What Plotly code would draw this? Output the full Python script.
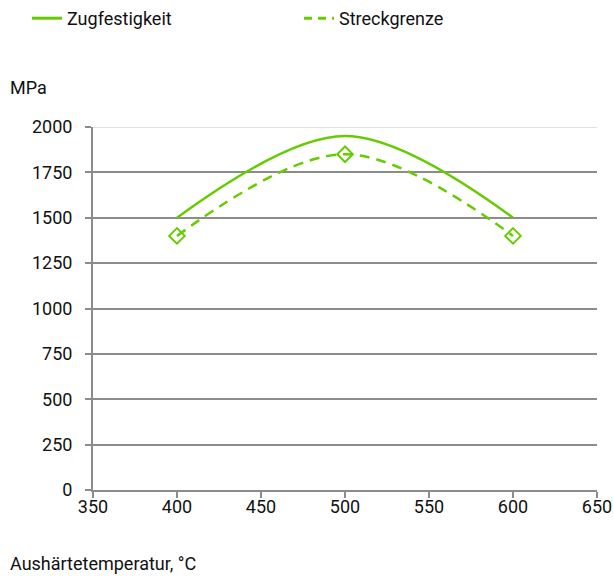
import plotly.graph_objects as go

temps = [400, 500, 600]
zugfestigkeit = [1500, 1950, 1500]
streckgrenze = [1400, 1850, 1400]
x_ticks = [350, 400, 450, 500, 550, 600, 650]
y_ticks = [0, 250, 500, 750, 1000, 1250, 1500, 1750, 2000]

green = "#66cc00"
font_family = "Roboto, Liberation Sans, sans-serif"

W, H = 613, 576
L, R, T, B = 93, 16, 127, 86
pw, ph = W - L - R, H - T - B

fig = go.Figure()
fig.add_trace(go.Scatter(x=temps, y=zugfestigkeit, name="Zugfestigkeit", mode="lines",
                         showlegend=False,
                         line=dict(color=green, width=2.5, shape="spline", smoothing=1.0)))
fig.add_trace(go.Scatter(x=temps, y=streckgrenze, name="Streckgrenze", mode="lines+markers",
                         showlegend=False,
                         line=dict(color=green, width=2.5, dash="10px,7px", shape="spline", smoothing=1.0),
                         marker=dict(symbol="diamond-open", size=12, color=green, line=dict(width=2, color=green))))
# legend-only entries (line samples without markers), each in its own legend box
fig.add_trace(go.Scatter(x=[None], y=[None], name="Zugfestigkeit", mode="lines",
                         legend="legend", line=dict(color=green, width=3)))
fig.add_trace(go.Scatter(x=[None], y=[None], name="Streckgrenze", mode="lines",
                         legend="legend2", line=dict(color=green, width=3, dash="8px,6px")))

fig.add_shape(type="line", xref="paper", yref="y", x0=0, x1=1, y0=2000, y1=2000,
              line=dict(color="#e0e0e0", width=2), layer="above")

legend_common = dict(orientation="h", xref="container", xanchor="left",
                     y=490 / ph, yref="paper", yanchor="top",
                     font=dict(size=18), itemclick=False, bgcolor="rgba(0,0,0,0)")

fig.update_layout(
    width=W, height=H,
    margin=dict(l=L, r=R, t=T, b=B, autoexpand=False),
    paper_bgcolor="white", plot_bgcolor="white",
    font=dict(family=font_family, size=18, color="#111111"),
    showlegend=True,
    legend=dict(x=27 / W, **legend_common),
    legend2=dict(x=299 / W, **legend_common),
    xaxis=dict(range=[350, 650], tickvals=x_ticks, showgrid=False, showline=True,
               linecolor="#8c8c8c", linewidth=2, ticks="outside", tickcolor="#8c8c8c",
               ticklen=6, tickwidth=2, zeroline=False, automargin=False,
               ticklabelstandoff=-7, tickfont=dict(size=18)),
    yaxis=dict(range=[0, 2000], tickvals=y_ticks, showgrid=True, gridcolor="#8c8c8c",
               gridwidth=2, showline=True, linecolor="#8c8c8c", linewidth=2,
               ticks="outside", tickcolor="#8c8c8c", ticklen=6, tickwidth=2,
               zeroline=False, automargin=False, ticklabelstandoff=9,
               tickfont=dict(size=18)),
    annotations=[
        dict(text="MPa", xref="paper", yref="paper", x=(8 - L) / pw, y=(490 - 88) / ph,
             showarrow=False, xanchor="left", yanchor="middle", font=dict(size=18)),
        dict(text="Aushärtetemperatur, °C", xref="paper", yref="paper", x=(8 - L) / pw,
             y=-(563 - 490) / ph, showarrow=False, xanchor="left", yanchor="middle",
             font=dict(size=18)),
    ],
)

fig.write_html("out.html", config={"displayModeBar": False},
               post_script="document.body.style.margin='0';document.documentElement.style.overflow='hidden';")
